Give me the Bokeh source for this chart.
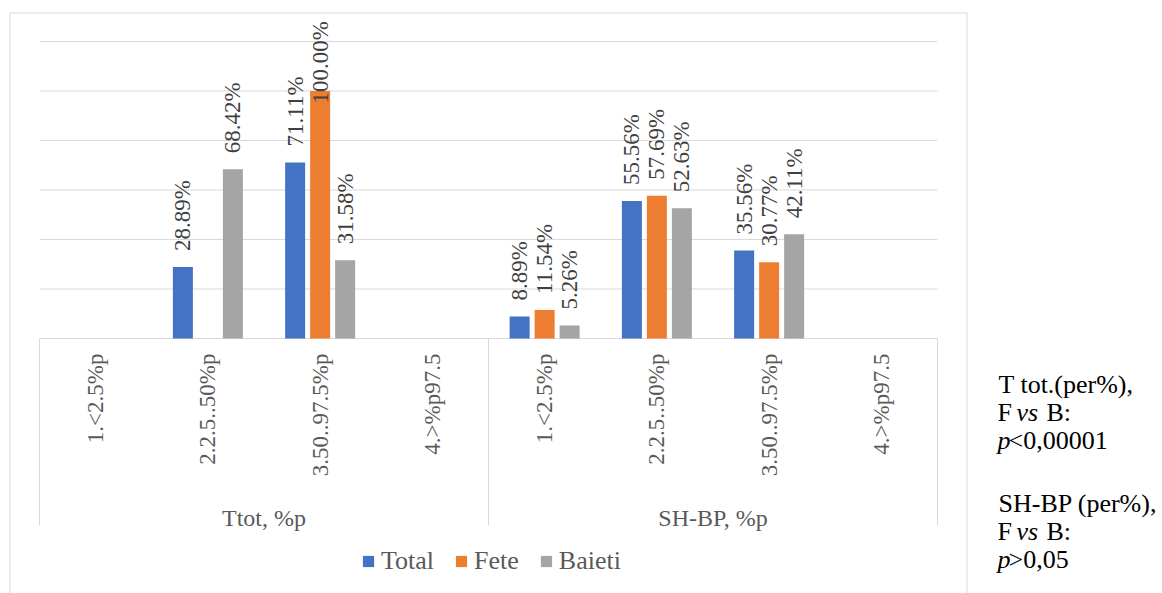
import numpy as np
from bokeh.plotting import figure
from bokeh.models import ColumnDataSource, Range1d, Legend, LegendItem
from bokeh.core.properties import value
from bokeh.embed import file_html
from bokeh.resources import INLINE

# ---------------- data ----------------
groups = ["Ttot, %p", "SH-BP, %p"]
subcats = ["1.<2.5%p", "2.2.5..50%p", "3.50..97.5%p", "4.>%p97.5"]
series_names = ["Total", "Fete", "Baieti"]
series_colors = ["#4472C4", "#ED7D31", "#A5A5A5"]
total = [None, 28.89, 71.11, None, 8.89, 55.56, 35.56, None]
fete = [None, None, 100.00, None, 11.54, 57.69, 30.77, None]
baieti = [None, 68.42, 31.58, None, 5.26, 52.63, 42.11, None]
y_ticks = [0, 20, 40, 60, 80, 100, 120]

note_rows = [
    [("T tot.(per%),", "normal")],
    [("F", "normal"), ("vs", "italic"), ("B:", "normal")],
    [("p", "italic"), ("<0,00001", "normal")],
    [("SH-BP (per%),", "normal")],
    [("F", "normal"), ("vs", "italic"), ("B:", "normal")],
    [("p", "italic"), (">0,05", "normal")],
]

# ---------------- layout (page pixels) ----------------
W, H = 1162, 593
X0_PAGE = 39.0          # left edge of first category
CAT_PX = 112.25         # width of one category
BASE_PAGE = 338.0       # y of value 0
PCT_PX = 297.0 / 120.0  # pixels per percent

def dx(page_x):
    return (page_x - X0_PAGE) / CAT_PX

def dy(page_y):
    return (BASE_PAGE - page_y) / PCT_PX

FONT = value("Liberation Serif")
GRID_COLOR = "#D9D9D9"

n_cat = len(groups) * len(subcats)
cat_x = np.arange(n_cat) + 0.5

p = figure(width=W, height=H, output_backend="svg", toolbar_location=None,
           x_range=Range1d(dx(0), dx(W)),
           y_range=Range1d(dy(H), dy(0)),
           x_axis_location=None, y_axis_location=None,
           min_border=0, min_border_left=0, min_border_right=0,
           min_border_top=0, min_border_bottom=0)
p.outline_line_color = None
p.background_fill_color = "white"
p.border_fill_color = "white"
p.xgrid.visible = False
p.ygrid.visible = False

# chart-area border (left, top, right)
bx0, bx1 = dx(9.5), dx(966.5)
byt, byb = dy(12.5), dy(700)
p.line(x=[bx0, bx0, bx1, bx1], y=[byb, byt, byt, byb], line_color=GRID_COLOR, line_width=1)

# horizontal gridlines
p.segment(x0=[0] * len(y_ticks), x1=[n_cat] * len(y_ticks), y0=y_ticks, y1=y_ticks,
          line_color=GRID_COLOR, line_width=1)

# category separators (multi-level axis boxes)
sep_x = [i * len(subcats) for i in range(len(groups) + 1)]
p.segment(x0=sep_x, x1=sep_x, y0=[0] * len(sep_x), y1=[dy(525)] * len(sep_x),
          line_color=GRID_COLOR, line_width=1)

# bars + data labels
bar_w = 20.0 / CAT_PX
step = 25.0 / CAT_PX
offsets = [-step, 0.0, step]
label_gap = 16.0 / PCT_PX
label_max = dy(103)
legend_items = []
for vals, name, color, off in zip([total, fete, baieti], series_names, series_colors, offsets):
    xs = [cx + off for cx, v in zip(cat_x, vals) if v is not None]
    vs = [v for v in vals if v is not None]
    src = ColumnDataSource(dict(x=xs, top=vs,
                                ly=[min(v + label_gap, label_max) for v in vs],
                                txt=[f"{v:.2f}%" for v in vs]))
    r = p.vbar(x="x", top="top", width=bar_w, bottom=0, source=src,
               fill_color=color, line_color=None)
    p.text(x="x", y="ly", text="txt", source=src, angle=np.pi / 2,
           text_align="left", text_baseline="middle", text_font=FONT,
           text_font_size="23px", text_color="#404040")
    legend_items.append(LegendItem(label=name, renderers=[r]))

# sub-category labels
sub_src = ColumnDataSource(dict(x=cat_x, y=[dy(353)] * n_cat,
                                txt=subcats * len(groups)))
p.text(x="x", y="y", text="txt", source=sub_src, angle=np.pi / 2,
       text_align="right", text_baseline="middle", text_font=FONT,
       text_font_size="23px", text_color="#595959")

# group labels
grp_x = [(i + 0.5) * len(subcats) for i in range(len(groups))]
p.text(x=grp_x, y=[dy(517)] * len(groups), text=groups, text_align="center",
       text_baseline="alphabetic", text_font=FONT, text_font_size="24px",
       text_color="#595959")

# legend
legend = Legend(items=legend_items, orientation="horizontal",
                location=(361, 17), glyph_width=14, glyph_height=14,
                label_standoff=6, spacing=20, padding=0, margin=0,
                border_line_color=None, background_fill_alpha=0,
                label_text_font="Liberation Serif", label_text_font_size="26px",
                label_text_color="#595959")
p.add_layout(legend, "center")

# notes on the right
row_y = [384, 412, 440, 503, 531, 559]
seg_x = {"T tot.(per%),": 998, "SH-BP (per%),": 998, "F": 997, "vs": 1016,
         "B:": 1046, "p": 997, "<0,00001": 1008, ">0,05": 1008}
for row, yy in zip(note_rows, row_y):
    for txt, style in row:
        p.text(x=[dx(seg_x[txt])], y=[dy(yy)], text=[txt], text_align="left",
               text_baseline="alphabetic", text_font=FONT, text_font_size="26px",
               text_font_style=style, text_color="#000000")

open("out.html", "w").write(file_html(p, INLINE))
